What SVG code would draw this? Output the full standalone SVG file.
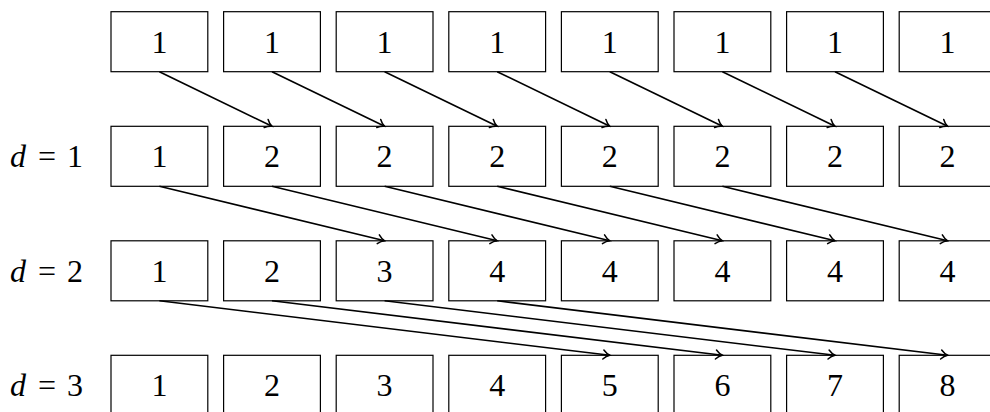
<svg xmlns="http://www.w3.org/2000/svg" width="990" height="412" viewBox="0 0 990 412">
<style>
.box{fill:#fff;stroke:#000;stroke-width:1.2}
.num{font-family:"Liberation Serif","DejaVu Serif",serif;font-size:32px;text-anchor:middle;fill:#000}
.lbl{font-family:"Liberation Serif","DejaVu Serif",serif;font-size:32px;fill:#000}
.arr{fill:none;stroke:#000;stroke-width:1.6;marker-end:url(#ah)}
</style>
<defs>
<marker id="ah" markerUnits="userSpaceOnUse" viewBox="-8 -6 10 12" refX="0" refY="0" markerWidth="10" markerHeight="12" orient="auto">
<path d="M -6.5,-4.5 C -4,-1.8 -1.5,-0.5 0,0 C -1.5,0.5 -4,1.8 -6.5,4.5" fill="none" stroke="#000" stroke-width="1.5" stroke-linecap="round"/>
</marker>
</defs>
<g id="labels">
<text class="lbl" x="10" y="167"><tspan font-style="italic">d</tspan></text><text class="num" x="47" y="167">=</text><text class="num" x="75" y="167">1</text>
<text class="lbl" x="10" y="281.5"><tspan font-style="italic">d</tspan></text><text class="num" x="47" y="281.5">=</text><text class="num" x="75" y="281.5">2</text>
<text class="lbl" x="10" y="396"><tspan font-style="italic">d</tspan></text><text class="num" x="47" y="396">=</text><text class="num" x="75" y="396">3</text>
</g>
<g id="row0">
<g id="r0c0"><rect class="box" x="111" y="11.7" width="96.8" height="60"/><text class="num" x="159.4" y="52.5">1</text></g>
<g id="r0c1"><rect class="box" x="223.6" y="11.7" width="96.8" height="60"/><text class="num" x="272" y="52.5">1</text></g>
<g id="r0c2"><rect class="box" x="336.2" y="11.7" width="96.8" height="60"/><text class="num" x="384.6" y="52.5">1</text></g>
<g id="r0c3"><rect class="box" x="448.8" y="11.7" width="96.8" height="60"/><text class="num" x="497.2" y="52.5">1</text></g>
<g id="r0c4"><rect class="box" x="561.4" y="11.7" width="96.8" height="60"/><text class="num" x="609.8" y="52.5">1</text></g>
<g id="r0c5"><rect class="box" x="674" y="11.7" width="96.8" height="60"/><text class="num" x="722.4" y="52.5">1</text></g>
<g id="r0c6"><rect class="box" x="786.6" y="11.7" width="96.8" height="60"/><text class="num" x="835" y="52.5">1</text></g>
<g id="r0c7"><rect class="box" x="899.2" y="11.7" width="96.8" height="60"/><text class="num" x="947.6" y="52.5">1</text></g>
</g>
<g id="row1">
<g id="r1c0"><rect class="box" x="111" y="126.3" width="96.8" height="60"/><text class="num" x="159.4" y="167.1">1</text></g>
<g id="r1c1"><rect class="box" x="223.6" y="126.3" width="96.8" height="60"/><text class="num" x="272" y="167.1">2</text></g>
<g id="r1c2"><rect class="box" x="336.2" y="126.3" width="96.8" height="60"/><text class="num" x="384.6" y="167.1">2</text></g>
<g id="r1c3"><rect class="box" x="448.8" y="126.3" width="96.8" height="60"/><text class="num" x="497.2" y="167.1">2</text></g>
<g id="r1c4"><rect class="box" x="561.4" y="126.3" width="96.8" height="60"/><text class="num" x="609.8" y="167.1">2</text></g>
<g id="r1c5"><rect class="box" x="674" y="126.3" width="96.8" height="60"/><text class="num" x="722.4" y="167.1">2</text></g>
<g id="r1c6"><rect class="box" x="786.6" y="126.3" width="96.8" height="60"/><text class="num" x="835" y="167.1">2</text></g>
<g id="r1c7"><rect class="box" x="899.2" y="126.3" width="96.8" height="60"/><text class="num" x="947.6" y="167.1">2</text></g>
</g>
<g id="row2">
<g id="r2c0"><rect class="box" x="111" y="240.8" width="96.8" height="60"/><text class="num" x="159.4" y="281.6">1</text></g>
<g id="r2c1"><rect class="box" x="223.6" y="240.8" width="96.8" height="60"/><text class="num" x="272" y="281.6">2</text></g>
<g id="r2c2"><rect class="box" x="336.2" y="240.8" width="96.8" height="60"/><text class="num" x="384.6" y="281.6">3</text></g>
<g id="r2c3"><rect class="box" x="448.8" y="240.8" width="96.8" height="60"/><text class="num" x="497.2" y="281.6">4</text></g>
<g id="r2c4"><rect class="box" x="561.4" y="240.8" width="96.8" height="60"/><text class="num" x="609.8" y="281.6">4</text></g>
<g id="r2c5"><rect class="box" x="674" y="240.8" width="96.8" height="60"/><text class="num" x="722.4" y="281.6">4</text></g>
<g id="r2c6"><rect class="box" x="786.6" y="240.8" width="96.8" height="60"/><text class="num" x="835" y="281.6">4</text></g>
<g id="r2c7"><rect class="box" x="899.2" y="240.8" width="96.8" height="60"/><text class="num" x="947.6" y="281.6">4</text></g>
</g>
<g id="row3">
<g id="r3c0"><rect class="box" x="111" y="355.3" width="96.8" height="60"/><text class="num" x="159.4" y="396.1">1</text></g>
<g id="r3c1"><rect class="box" x="223.6" y="355.3" width="96.8" height="60"/><text class="num" x="272" y="396.1">2</text></g>
<g id="r3c2"><rect class="box" x="336.2" y="355.3" width="96.8" height="60"/><text class="num" x="384.6" y="396.1">3</text></g>
<g id="r3c3"><rect class="box" x="448.8" y="355.3" width="96.8" height="60"/><text class="num" x="497.2" y="396.1">4</text></g>
<g id="r3c4"><rect class="box" x="561.4" y="355.3" width="96.8" height="60"/><text class="num" x="609.8" y="396.1">5</text></g>
<g id="r3c5"><rect class="box" x="674" y="355.3" width="96.8" height="60"/><text class="num" x="722.4" y="396.1">6</text></g>
<g id="r3c6"><rect class="box" x="786.6" y="355.3" width="96.8" height="60"/><text class="num" x="835" y="396.1">7</text></g>
<g id="r3c7"><rect class="box" x="899.2" y="355.3" width="96.8" height="60"/><text class="num" x="947.6" y="396.1">8</text></g>
</g>
<g id="connectors">
<line class="arr" x1="159.4" y1="71.7" x2="272" y2="126.3"/>
<line class="arr" x1="272" y1="71.7" x2="384.6" y2="126.3"/>
<line class="arr" x1="384.6" y1="71.7" x2="497.2" y2="126.3"/>
<line class="arr" x1="497.2" y1="71.7" x2="609.8" y2="126.3"/>
<line class="arr" x1="609.8" y1="71.7" x2="722.4" y2="126.3"/>
<line class="arr" x1="722.4" y1="71.7" x2="835" y2="126.3"/>
<line class="arr" x1="835" y1="71.7" x2="947.6" y2="126.3"/>
<line class="arr" x1="159.4" y1="186.3" x2="384.6" y2="240.8"/>
<line class="arr" x1="272" y1="186.3" x2="497.2" y2="240.8"/>
<line class="arr" x1="384.6" y1="186.3" x2="609.8" y2="240.8"/>
<line class="arr" x1="497.2" y1="186.3" x2="722.4" y2="240.8"/>
<line class="arr" x1="609.8" y1="186.3" x2="835" y2="240.8"/>
<line class="arr" x1="722.4" y1="186.3" x2="947.6" y2="240.8"/>
<line class="arr" x1="159.4" y1="300.8" x2="609.8" y2="355.3"/>
<line class="arr" x1="272" y1="300.8" x2="722.4" y2="355.3"/>
<line class="arr" x1="384.6" y1="300.8" x2="835" y2="355.3"/>
<line class="arr" x1="497.2" y1="300.8" x2="947.6" y2="355.3"/>
</g>
</svg>
